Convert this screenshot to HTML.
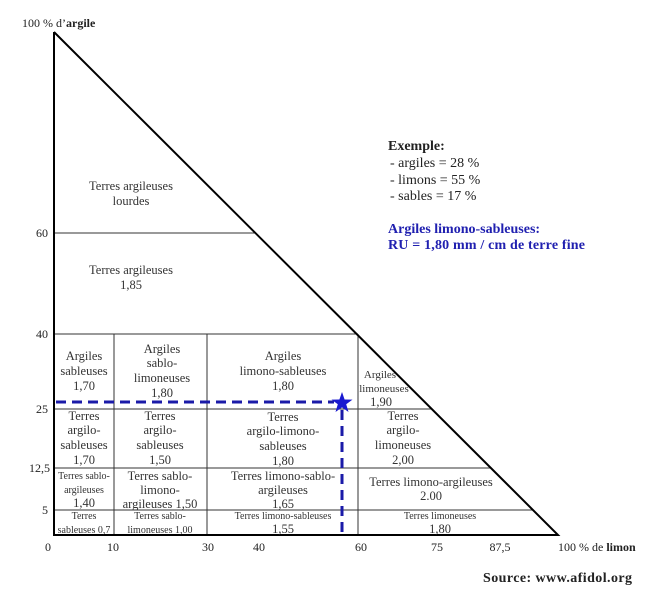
<!DOCTYPE html>
<html><head><meta charset="utf-8"><style>
html,body{margin:0;padding:0;background:#fff;}
svg{display:block;font-family:"Liberation Serif",serif;}
</style></head><body>
<svg width="650" height="595" viewBox="0 0 650 595" xmlns="http://www.w3.org/2000/svg">
<g stroke="#333" stroke-width="1" fill="none">
<line x1="54" y1="233" x2="255" y2="233"/>
<line x1="54" y1="334" x2="358" y2="334"/>
<line x1="54" y1="409" x2="432" y2="409"/>
<line x1="54" y1="468" x2="491" y2="468"/>
<line x1="54" y1="510" x2="533" y2="510"/>
<line x1="114" y1="334" x2="114" y2="535"/>
<line x1="207" y1="334" x2="207" y2="535"/>
<line x1="358" y1="334" x2="358" y2="535"/>
</g>
<polyline points="54,32 54,535 558,535 54,32" fill="none" stroke="#000" stroke-width="2"/>
<g stroke="#1a1aa8" stroke-width="3" stroke-dasharray="10,6" fill="none">
<line x1="56" y1="402" x2="334" y2="402"/>
<line x1="342" y1="410" x2="342" y2="535"/>
</g>
<polygon points="342,392 344.6,399.5 352.5,399.6 346.2,404.3 348.5,412 342,407.4 335.5,412 337.8,404.3 331.5,399.6 339.4,399.5" fill="#1a1ad0"/>
<g font-size="12" fill="#222" text-anchor="end">
<text x="48" y="237">60</text><text x="48" y="338">40</text><text x="48" y="413">25</text>
<text x="50" y="472">12,5</text><text x="48" y="514">5</text>
</g>
<text x="22" y="27" font-size="12" fill="#222">100 % d’<tspan font-weight="bold">argile</tspan></text>
<g font-size="12" fill="#222" text-anchor="middle">
<text x="48" y="551">0</text><text x="113" y="551">10</text><text x="208" y="551">30</text>
<text x="259" y="551">40</text><text x="361" y="551">60</text><text x="437" y="551">75</text><text x="500" y="551">87,5</text>
</g>
<text x="558" y="551" font-size="12" fill="#222">100 % de <tspan font-weight="bold">limon</tspan></text>
<text x="483" y="582" font-size="14" font-weight="bold" fill="#222" textLength="149">Source: www.afidol.org</text>
<g font-size="14" fill="#222">
<text x="388" y="150" font-weight="bold">Exemple:</text>
<text x="390" y="167">- argiles = 28 %</text>
<text x="390" y="184">- limons = 55 %</text>
<text x="390" y="200">- sables = 17 %</text>
</g>
<g font-size="14" font-weight="bold" fill="#2020b0">
<text x="388" y="233">Argiles limono-sableuses:</text>
<text x="388" y="249" textLength="197">RU = 1,80 mm / cm de terre fine</text>
</g>
<g font-size="12.5" fill="#333" text-anchor="middle">
<text x="131" y="190">Terres argileuses</text><text x="131" y="205">lourdes</text>
<text x="131" y="274">Terres argileuses</text><text x="131" y="289">1,85</text>
<text x="84" y="360">Argiles</text><text x="84" y="375">sableuses</text><text x="84" y="390">1,70</text>
<text x="162" y="353">Argiles</text><text x="162" y="367">sablo-</text><text x="162" y="382">limoneuses</text><text x="162" y="397">1,80</text>
<text x="283" y="360">Argiles</text><text x="283" y="375">limono-sableuses</text><text x="283" y="390">1,80</text>
<text x="380" y="378" font-size="11">Argiles</text><text x="384" y="392" font-size="11">limoneuses</text><text x="381" y="406">1,90</text>
<text x="84" y="420">Terres</text><text x="84" y="434">argilo-</text><text x="84" y="449">sableuses</text><text x="84" y="464">1,70</text>
<text x="160" y="420">Terres</text><text x="160" y="434">argilo-</text><text x="160" y="449">sableuses</text><text x="160" y="464">1,50</text>
<text x="283" y="421">Terres</text><text x="283" y="435">argilo-limono-</text><text x="283" y="450">sableuses</text><text x="283" y="465">1,80</text>
<text x="403" y="420">Terres</text><text x="403" y="434">argilo-</text><text x="403" y="449">limoneuses</text><text x="403" y="464">2,00</text>
<text x="84" y="479" font-size="10">Terres sablo-</text><text x="84" y="493" font-size="10">argileuses</text><text x="84" y="507">1,40</text>
<text x="160" y="480">Terres sablo-</text><text x="160" y="494">limono-</text><text x="160" y="508">argileuses 1,50</text>
<text x="283" y="480">Terres limono-sablo-</text><text x="283" y="494">argileuses</text><text x="283" y="508">1,65</text>
<text x="431" y="486">Terres limono-argileuses</text><text x="431" y="500">2.00</text>
<text x="84" y="519" font-size="10">Terres</text><text x="84" y="533" font-size="10">sableuses 0,7</text>
<text x="160" y="519" font-size="10">Terres sablo-</text><text x="160" y="533" font-size="10">limoneuses 1,00</text>
<text x="283" y="519" font-size="10">Terres limono-sableuses</text><text x="283" y="533">1,55</text>
<text x="440" y="519" font-size="10">Terres limoneuses</text><text x="440" y="533">1,80</text>
</g>
</svg>
</body></html>
